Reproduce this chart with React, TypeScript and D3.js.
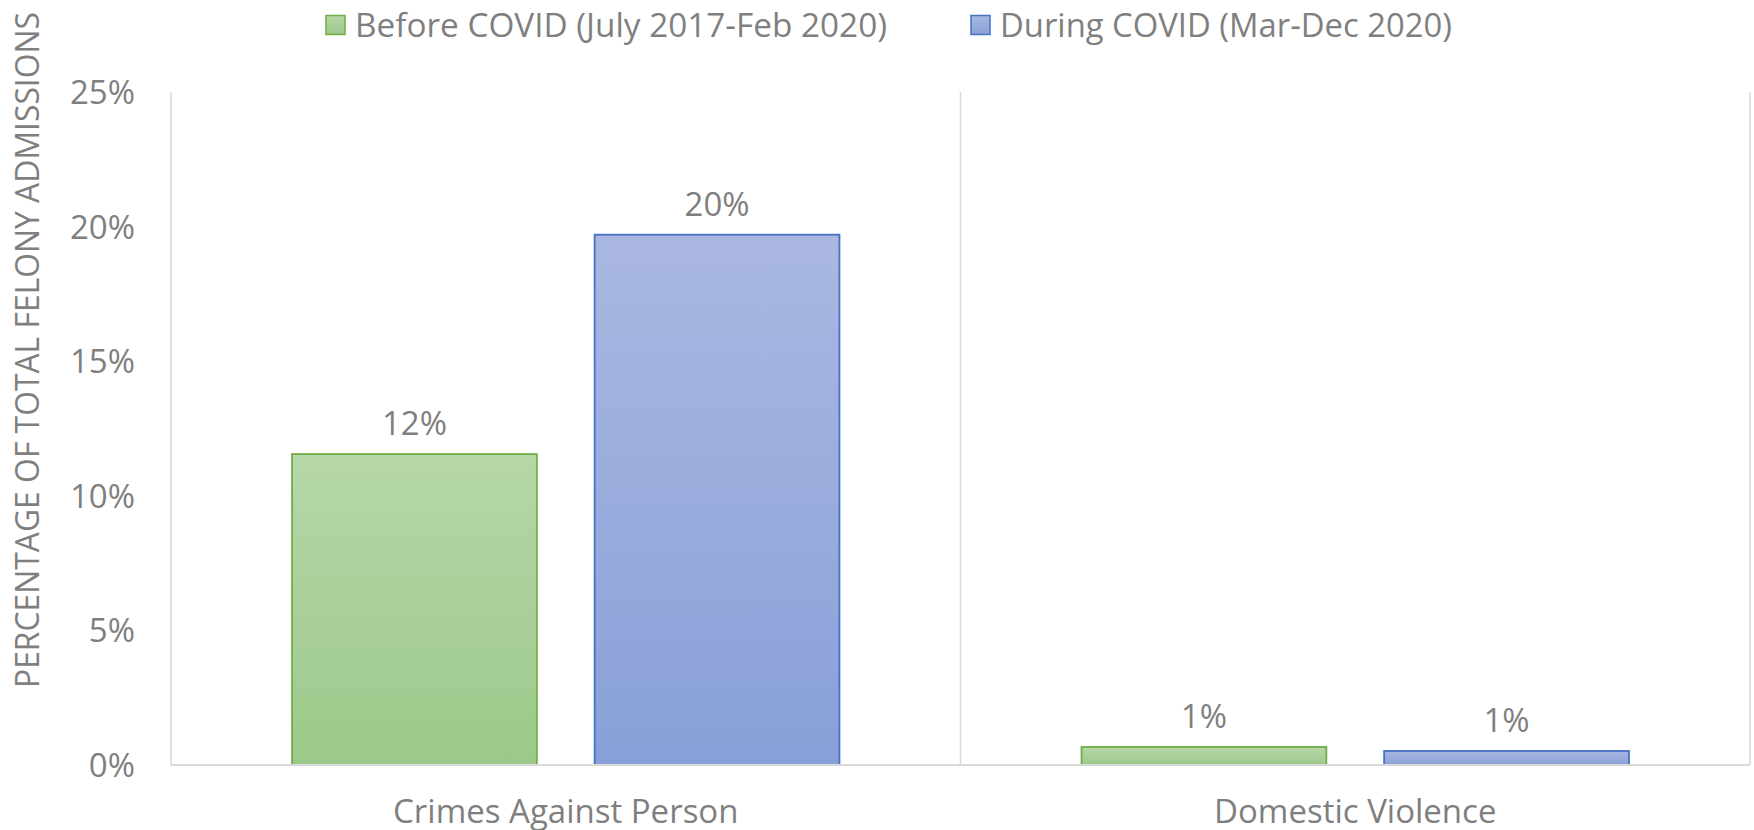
import React from "react";
import * as d3 from "d3";

const categories = ["Crimes Against Person", "Domestic Violence"];
const seriesNames = ["Before COVID (July 2017-Feb 2020)", "During COVID (Mar-Dec 2020)"];
const beforeValues = [0.1155, 0.0067];
const duringValues = [0.197, 0.0052];
const yTicks = [0, 0.05, 0.1, 0.15, 0.2, 0.25];
const yTitle = "PERCENTAGE OF TOTAL FELONY ADMISSIONS";

const W = 1754;
const H = 830;
const FONT = "'Open Sans', 'Noto Sans', sans-serif";
const TEXT = "#7f7f7f";
const GRID = "#d9d9d9";

const seriesStyle = [
  { id: "gGreen", top: "#b6d7a8", bottom: "#9cc98a", stroke: "#70ad47" },
  { id: "gBlue", top: "#aab8e1", bottom: "#88a0d8", stroke: "#4472c4" },
];

export default function App() {
  const left = 171, right = 1750, top = 92, bottom = 765;
  const y = d3.scaleLinear().domain([0, 0.25]).range([bottom, top]);
  const x0 = d3.scaleBand<string>().domain(categories).range([left, right]).padding(0);
  const x1 = d3
    .scaleBand<string>()
    .domain(seriesNames)
    .range([0, x0.bandwidth()])
    .paddingInner(0.191)
    .paddingOuter(0.4);
  const fmt = d3.format(".0%");
  const values = [beforeValues, duringValues];

  const boundaries = [left, ...categories.map((c) => (x0(c) as number) + x0.bandwidth())];

  return (
    <svg
      width={W}
      height={H}
      style={{ position: "absolute", left: 0, top: 0, background: "#fff" }}
      fontFamily={FONT}
    >
      <defs>
        {seriesStyle.map((s) => (
          <linearGradient key={s.id} id={s.id} x1="0" y1="0" x2="0" y2="1">
            <stop offset="0%" stopColor={s.top} />
            <stop offset="100%" stopColor={s.bottom} />
          </linearGradient>
        ))}
      </defs>

      {/* vertical category gridlines */}
      {boundaries.map((bx, i) => (
        <line key={i} x1={bx} x2={bx} y1={top} y2={bottom} stroke={GRID} strokeWidth={1.5} />
      ))}

      {/* y tick labels */}
      {yTicks.map((t) => (
        <text key={t} x={135} y={y(t) + 12} textAnchor="end" fontSize={33} fill={TEXT}>
          {fmt(t)}
        </text>
      ))}

      {/* bars */}
      {categories.map((c, ci) =>
        seriesNames.map((s, si) => {
          const v = values[si][ci];
          const bx = (x0(c) as number) + (x1(s) as number);
          const by = y(v);
          return (
            <g key={c + s}>
              <rect
                x={bx}
                y={by}
                width={x1.bandwidth()}
                height={bottom - by}
                fill={`url(#${seriesStyle[si].id})`}
                stroke={seriesStyle[si].stroke}
                strokeWidth={1.8}
              />
              <text
                x={bx + x1.bandwidth() / 2}
                y={by - 19}
                textAnchor="middle"
                fontSize={33}
                fill={TEXT}
              >
                {fmt(v)}
              </text>
            </g>
          );
        })
      )}

      {/* baseline */}
      <line x1={left} x2={right} y1={bottom} y2={bottom} stroke={GRID} strokeWidth={2} />

      {/* category labels */}
      {categories.map((c) => (
        <text
          key={c}
          x={(x0(c) as number) + x0.bandwidth() / 2}
          y={823}
          textAnchor="middle"
          fontSize={33}
          fill={TEXT}
        >
          {c}
        </text>
      ))}

      {/* y axis title */}
      <text
        transform="translate(39,350) rotate(-90)"
        textAnchor="middle"
        fontSize={33}
        fill={TEXT}
        textLength={676}
        lengthAdjust="spacingAndGlyphs"
      >
        {yTitle}
      </text>

      {/* legend */}
      {seriesNames.map((s, i) => {
        const lx = [326, 971][i];
        const tl = [532, 452][i];
        return (
          <g key={s}>
            <rect
              x={lx}
              y={15.5}
              width={19}
              height={19}
              fill={`url(#${seriesStyle[i].id})`}
              stroke={seriesStyle[i].stroke}
              strokeWidth={1.5}
            />
            <text
              x={lx + 29}
              y={37}
              fontSize={33}
              fill={TEXT}
              textLength={tl}
              lengthAdjust="spacingAndGlyphs"
            >
              {s}
            </text>
          </g>
        );
      })}
    </svg>
  );
}
